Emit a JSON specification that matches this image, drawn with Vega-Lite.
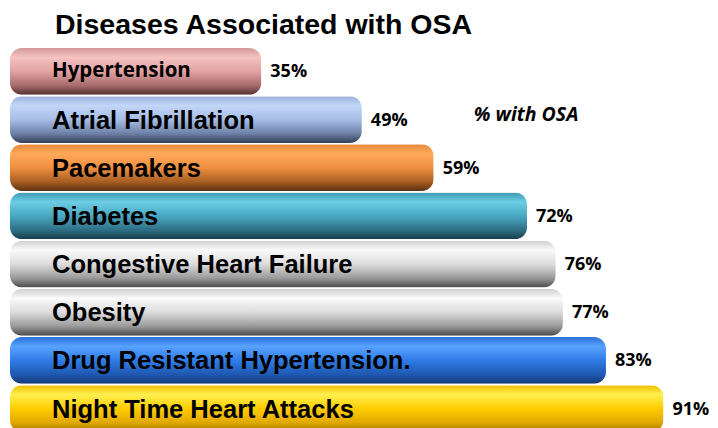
{
  "$schema": "https://vega.github.io/schema/vega-lite/v6.json",
  "width": 708,
  "height": 384,
  "autosize": "none",
  "padding": {"left": 10, "top": 48, "right": 0, "bottom": 0},
  "background": "white",
  "title": {
    "text": "Diseases Associated with OSA",
    "font": "Liberation Sans",
    "fontSize": 28.5,
    "fontWeight": "bold",
    "color": "black",
    "anchor": "start",
    "frame": "group",
    "dx": 45,
    "dy": 27,
    "offset": 13,
    "baseline": "alphabetic"
  },
  "config": {"view": {"stroke": null}},
  "data": {
    "values": [
      {"name": "Hypertension", "value": 35, "pct": "35%"},
      {"name": "Atrial Fibrillation", "value": 49, "pct": "49%"},
      {"name": "Pacemakers", "value": 59, "pct": "59%"},
      {"name": "Diabetes", "value": 72, "pct": "72%"},
      {"name": "Congestive Heart Failure", "value": 76, "pct": "76%"},
      {"name": "Obesity", "value": 77, "pct": "77%"},
      {"name": "Drug Resistant Hypertension.", "value": 83, "pct": "83%"},
      {"name": "Night Time Heart Attacks", "value": 91, "pct": "91%"}
    ]
  },
  "encoding": {
    "y": {
      "field": "name",
      "type": "nominal",
      "sort": ["Hypertension", "Atrial Fibrillation", "Pacemakers", "Diabetes", "Congestive Heart Failure", "Obesity", "Drug Resistant Hypertension.", "Night Time Heart Attacks"],
      "scale": {"paddingInner": 0.03, "paddingOuter": 0},
      "axis": null
    },
    "x": {"field": "value", "type": "quantitative", "scale": {"domain": [0, 98.6]}, "axis": null}
  },
  "layer": [
    {
      "transform": [{"filter": "datum.name === 'Hypertension'"}],
      "mark": {"type": "bar", "cornerRadius": 12, "color": {"gradient": "linear", "x1": 0, "y1": 0, "x2": 0, "y2": 1, "stops": [
        {"offset": 0, "color": "#d49898"}, {"offset": 0.2, "color": "#f5c2c2"}, {"offset": 0.5, "color": "#e2a2a2"}, {"offset": 0.8, "color": "#a86c6c"}, {"offset": 1, "color": "#553030"}]}}
    },
    {
      "transform": [{"filter": "datum.name === 'Atrial Fibrillation'"}],
      "mark": {"type": "bar", "cornerRadius": 12, "color": {"gradient": "linear", "x1": 0, "y1": 0, "x2": 0, "y2": 1, "stops": [
        {"offset": 0, "color": "#9ab2dc"}, {"offset": 0.2, "color": "#c2d6f8"}, {"offset": 0.5, "color": "#a6bde6"}, {"offset": 0.8, "color": "#6e80a6"}, {"offset": 1, "color": "#353f58"}]}}
    },
    {
      "transform": [{"filter": "datum.name === 'Pacemakers'"}],
      "mark": {"type": "bar", "cornerRadius": 12, "color": {"gradient": "linear", "x1": 0, "y1": 0, "x2": 0, "y2": 1, "stops": [
        {"offset": 0, "color": "#e68a3c"}, {"offset": 0.2, "color": "#ffa85a"}, {"offset": 0.5, "color": "#f08f40"}, {"offset": 0.8, "color": "#a85e22"}, {"offset": 1, "color": "#5a3010"}]}}
    },
    {
      "transform": [{"filter": "datum.name === 'Diabetes'"}],
      "mark": {"type": "bar", "cornerRadius": 12, "color": {"gradient": "linear", "x1": 0, "y1": 0, "x2": 0, "y2": 1, "stops": [
        {"offset": 0, "color": "#3e9ab2"}, {"offset": 0.2, "color": "#6ccde4"}, {"offset": 0.5, "color": "#4aa8c2"}, {"offset": 0.8, "color": "#2e7086"}, {"offset": 1, "color": "#163c48"}]}}
    },
    {
      "transform": [{"filter": "datum.name === 'Congestive Heart Failure' || datum.name === 'Obesity'"}],
      "mark": {"type": "bar", "cornerRadius": 12, "color": {"gradient": "linear", "x1": 0, "y1": 0, "x2": 0, "y2": 1, "stops": [
        {"offset": 0, "color": "#cfcfcf"}, {"offset": 0.2, "color": "#fafafa"}, {"offset": 0.5, "color": "#dcdcdc"}, {"offset": 0.8, "color": "#9a9a9a"}, {"offset": 1, "color": "#4a4a4a"}]}}
    },
    {
      "transform": [{"filter": "datum.name === 'Drug Resistant Hypertension.'"}],
      "mark": {"type": "bar", "cornerRadius": 12, "color": {"gradient": "linear", "x1": 0, "y1": 0, "x2": 0, "y2": 1, "stops": [
        {"offset": 0, "color": "#2a72d8"}, {"offset": 0.2, "color": "#58a2ff"}, {"offset": 0.5, "color": "#2f7ce8"}, {"offset": 0.8, "color": "#1f58b0"}, {"offset": 1, "color": "#143a78"}]}}
    },
    {
      "transform": [{"filter": "datum.name === 'Night Time Heart Attacks'"}],
      "mark": {"type": "bar", "cornerRadius": 12, "color": {"gradient": "linear", "x1": 0, "y1": 0, "x2": 0, "y2": 1, "stops": [
        {"offset": 0, "color": "#f0c000"}, {"offset": 0.2, "color": "#fff050"}, {"offset": 0.5, "color": "#ffcc00"}, {"offset": 0.8, "color": "#e0a800"}, {"offset": 1, "color": "#a07800"}]}}
    },
    {
      "transform": [{"filter": "datum.name !== 'Hypertension'"}],
      "mark": {"type": "text", "align": "left", "baseline": "middle", "dx": 42, "dy": 1, "font": "Liberation Sans", "fontWeight": "bold", "fontSize": 25.5, "color": "black"},
      "encoding": {
        "x": {"datum": 0, "type": "quantitative"},
        "text": {"field": "name"}
      }
    },
    {
      "transform": [{"filter": "datum.name === 'Hypertension'"}],
      "mark": {"type": "text", "align": "left", "baseline": "middle", "dx": 42, "dy": 0, "font": "Open Sans", "fontWeight": "bold", "fontSize": 20.5, "color": "black"},
      "encoding": {
        "x": {"datum": 0, "type": "quantitative"},
        "text": {"field": "name"}
      }
    },
    {
      "mark": {"type": "text", "align": "left", "baseline": "middle", "dx": 9, "dy": 1, "font": "Open Sans", "fontWeight": "bold", "fontSize": 18, "color": "black"},
      "encoding": {
        "text": {"field": "pct"}
      }
    },
    {
      "data": {"values": [{"note": "% with OSA", "value": 64.6, "name": "Atrial Fibrillation"}]},
      "mark": {"type": "text", "align": "left", "baseline": "middle", "dy": -5, "font": "Open Sans", "fontWeight": "bold", "fontStyle": "italic", "fontSize": 19.5, "color": "black"},
      "encoding": {
        "text": {"field": "note"}
      }
    }
  ]
}
